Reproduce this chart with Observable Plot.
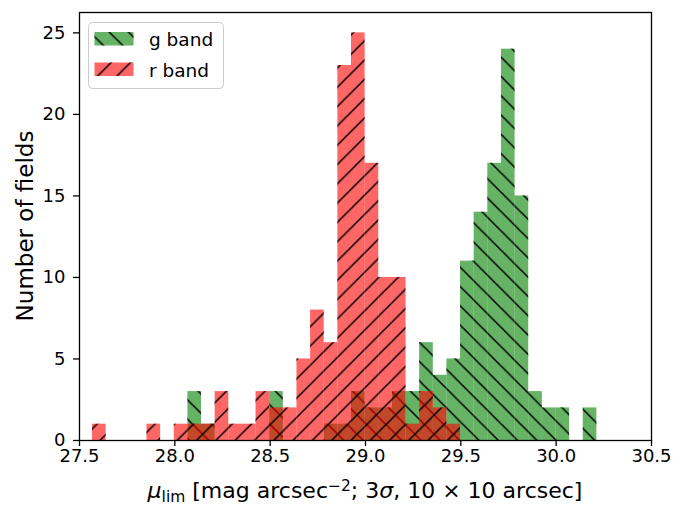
<!DOCTYPE html>
<html><head><meta charset="utf-8">
<script src="https://cdn.jsdelivr.net/npm/d3@7"></script>
<script src="https://cdn.jsdelivr.net/npm/@observablehq/plot@0.6"></script>
<style>html,body{margin:0;padding:0;background:#fff}</style>
</head><body><div id="chart"></div>
<script>
// Histogram bin grid (shared by both bands)
const binStart = 27.568;
const binWidth = 0.0715;
// Counts per bin
const gBand = [0,0,0,0,0,0,0,3,1,0,0,0,0,3,0,0,0,1,1,3,2,2,3,3,6,4,5,11,14,17,24,15,3,2,2,0,2];
const rBand = [1,0,0,0,1,0,1,1,1,3,1,1,3,2,2,5,8,6,23,25,17,10,10,1,3,2,1,0,0,0,0,0,0,0,0,0,0];
const xTicks = [27.5, 28.0, 28.5, 29.0, 29.5, 30.0, 30.5];
const yTicks = [0, 5, 10, 15, 20, 25];
const seriesNames = ["g band", "r band"];
const yLabel = "Number of fields";

function rows(counts) {
  const out = [];
  counts.forEach((c, i) => { if (c > 0) out.push({x1: binStart + i * binWidth, x2: binStart + (i + 1) * binWidth, n: c}); });
  return out;
}
const gRows = rows(gBand), rRows = rows(rBand);
const GREEN = "#008000", RED = "#ff0000";
const HP = 19.3;

const chart = Plot.plot({
  width: 684, height: 506,
  marginLeft: 79, marginRight: 33, marginTop: 12, marginBottom: 66,
  style: {fontFamily: "DejaVu Sans", fontSize: "18px", color: "black", background: "white"},
  x: {domain: [27.5, 30.5], ticks: xTicks, tickFormat: d => d.toFixed(1), tickSize: 6, tickPadding: 3, label: null},
  y: {domain: [0, 26.25], ticks: yTicks, tickSize: 6, tickPadding: 8, label: null},
  marks: [
    Plot.rectY(gRows, {x1: "x1", x2: "x2", y1: 0, y2: "n", fill: GREEN, fillOpacity: 0.6, inset: 0}),
    Plot.rectY(gRows, {x1: "x1", x2: "x2", y1: 0, y2: "n", fill: "url(#hatchG)", inset: 0}),
    Plot.rectY(rRows, {x1: "x1", x2: "x2", y1: 0, y2: "n", fill: RED, fillOpacity: 0.6, inset: 0}),
    Plot.rectY(rRows, {x1: "x1", x2: "x2", y1: 0, y2: "n", fill: "url(#hatchR)", inset: 0}),
    Plot.frame({stroke: "black", strokeWidth: 1.3})
  ]
});
document.getElementById("chart").appendChild(chart);

const svg = d3.select(chart);
svg.selectAll("g[aria-label$='axis'] path, g[aria-label$='tick'] path").attr("stroke-width", 1.3);
const defs = svg.insert("defs", ":first-child");
defs.append("pattern").attr("id", "hatchR").attr("patternUnits", "userSpaceOnUse")
  .attr("width", HP).attr("height", HP)
  .append("path")
  .attr("d", `M0,${HP} L${HP},0 M${-HP/4},${HP/4} L${HP/4},${-HP/4} M${3*HP/4},${5*HP/4} L${5*HP/4},${3*HP/4}`)
  .attr("stroke", "black").attr("stroke-width", 1.5);
defs.append("pattern").attr("id", "hatchG").attr("patternUnits", "userSpaceOnUse")
  .attr("width", HP).attr("height", HP)
  .append("path")
  .attr("d", `M0,0 L${HP},${HP} M${-HP/4},${3*HP/4} L${HP/4},${5*HP/4} M${3*HP/4},${-HP/4} L${5*HP/4},${HP/4}`)
  .attr("stroke", "black").attr("stroke-width", 1.5);

// Legend
const lg = svg.append("g").attr("font-family", "DejaVu Sans").attr("font-size", 18.5).attr("text-anchor", "start");
lg.append("rect").attr("x", 88.5).attr("y", 22.5).attr("width", 135).attr("height", 66).attr("rx", 4)
  .attr("fill", "white").attr("fill-opacity", 0.8).attr("stroke", "#cccccc");
const entries = [{name: seriesNames[0], color: GREEN, hatch: "url(#hatchG)", y: 32}, {name: seriesNames[1], color: RED, hatch: "url(#hatchR)", y: 62.5}];
entries.forEach(e => {
  lg.append("rect").attr("x", 94.5).attr("y", e.y).attr("width", 39).attr("height", 13.5).attr("fill", e.color).attr("fill-opacity", 0.6);
  lg.append("rect").attr("x", 94.5).attr("y", e.y).attr("width", 39).attr("height", 13.5).attr("fill", e.hatch);
  lg.append("text").attr("x", 149).attr("y", e.y + 14).attr("text-anchor", "start").attr("fill", "black").text(e.name);
});

// Y label
svg.append("text").attr("transform", "translate(33,226) rotate(-90)")
  .attr("text-anchor", "middle").attr("font-family", "DejaVu Sans").attr("font-size", 23).attr("fill", "black")
  .text(yLabel);

// X label with sub/superscripts
const xl = svg.append("text").attr("x", 365).attr("y", 498).attr("text-anchor", "middle")
  .attr("font-family", "DejaVu Sans").attr("font-size", 22).attr("fill", "black");
xl.append("tspan").attr("font-style", "italic").text("μ");
xl.append("tspan").attr("font-size", 15.5).attr("dy", 4).text("lim");
xl.append("tspan").attr("dy", -4).text(" [mag arcsec");
xl.append("tspan").attr("font-size", 15.5).attr("dy", -7).text("−2");
xl.append("tspan").attr("dy", 7).text("; 3");
xl.append("tspan").attr("font-style", "italic").text("σ");
xl.append("tspan").text(", 10 × 10 arcsec]");
</script>
</body></html>
